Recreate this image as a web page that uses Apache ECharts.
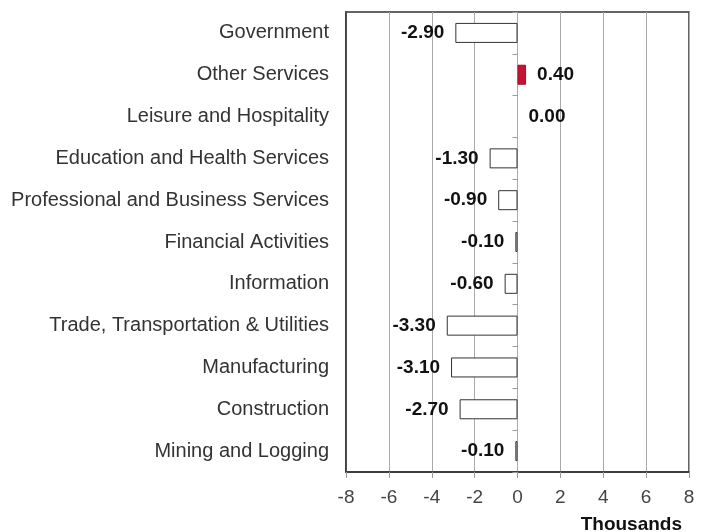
<!DOCTYPE html>
<html>
<head>
	<meta charset="utf-8" />
	<title>Employment change by industry</title>
	<style type="text/css">
		html,body{margin:0;padding:0;background:#fff;}
		#chart{width:704px;height:532px;}
	</style>
</head>
<body>
	<div id="chart"></div>
<script src="https://cdn.jsdelivr.net/npm/echarts@6/dist/echarts.min.js"></script>
<script>
	// categories, bottom to top
	var industries = [
		'Mining and Logging',
		'Construction',
		'Manufacturing',
		'Trade, Transportation & Utilities',
		'Information',
		'Financial Activities',
		'Professional and Business Services',
		'Education and Health Services',
		'Leisure and Hospitality',
		'Other Services',
		'Government'
	];
	// change, thousands
	var changes = [-0.1, -2.7, -3.1, -3.3, -0.6, -0.1, -0.9, -1.3, 0.0, 0.4, -2.9];
	var xTicks = [-8, -6, -4, -2, 0, 2, 4, 6, 8];

	var myChart = echarts.init(document.getElementById('chart'));

	var barData = changes.map(function (v) {
		return {
			value: v,
			itemStyle: {
				color: v > 0 ? '#c41230' : '#ffffff',
				borderColor: v > 0 ? '#a01028' : '#333333',
				borderWidth: v === 0 ? 0 : 1
			},
			label: { position: v < 0 ? 'left' : 'right' }
		};
	});

	myChart.setOption({
		animation: false,
		textStyle: { fontFamily: '"Liberation Sans", Arial, sans-serif' },
		title: {
			text: 'Thousands',
			right: 17,
			bottom: -7,
			textStyle: { fontSize: 19, fontWeight: 'bold', color: '#111' }
		},
		grid: {
			left: 346, right: 15, top: 12, bottom: 60,
			show: true, borderColor: '#333', borderWidth: 1.5
		},
		xAxis: {
			type: 'value',
			min: xTicks[0],
			max: xTicks[xTicks.length - 1],
			interval: 2,
			axisLine: { show: true, onZero: false, lineStyle: { color: '#333', width: 1.5 } },
			axisTick: { show: true, length: 6, lineStyle: { color: '#999' } },
			axisLabel: { color: '#444', fontSize: 19, margin: 16 },
			splitLine: { show: true, lineStyle: { color: '#aaa', width: 1 } }
		},
		yAxis: [{
			type: 'category',
			data: industries,
			position: 'left',
			axisLine: { show: true, onZero: false, lineStyle: { color: '#333', width: 1.5 } },
			axisTick: { show: false },
			axisLabel: { color: '#333', fontSize: 20, margin: 17, padding: [5, 0, 0, 0] }
		}, {
			// small ticks along the zero line
			type: 'category',
			data: industries,
			position: 'right',
			axisLine: { show: false, onZero: true },
			axisTick: { show: true, inside: true, length: 5, lineStyle: { color: '#999' } },
			axisLabel: { show: false }
		}],
		series: [{
			name: 'Change',
			type: 'bar',
			barWidth: 20,
			data: barData,
			label: {
				show: true,
				distance: 11,
				fontSize: 19,
				fontWeight: 'bold',
				color: '#111',
				padding: [5, 0, 0, 0],
				formatter: function (p) { return p.value.toFixed(2); }
			}
		}]
	});
</script>
</body>
</html>
